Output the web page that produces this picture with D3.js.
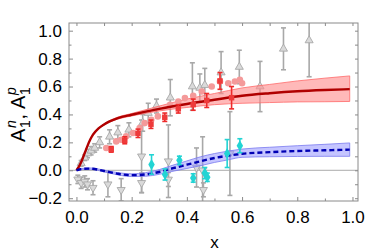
<!DOCTYPE html>
<html>
<head>
<meta charset="utf-8">
<script src="https://cdn.jsdelivr.net/npm/d3@7"></script>
<style>
  body { margin: 0; background: #fff; }
  svg { display: block; font-family: "Liberation Sans", Arial, sans-serif; }
</style>
</head>
<body>
<svg width="366" height="252"></svg>
<script>
// model curves
var redX  = [0, 0.01, 0.02, 0.03, 0.04, 0.05, 0.06, 0.08, 0.1, 0.12, 0.15, 0.2, 0.3, 0.4, 0.5, 0.6, 0.7, 0.8, 0.9, 0.99];
var redY  = [0, 0.03, 0.072, 0.124, 0.175, 0.22, 0.255, 0.30, 0.328, 0.35, 0.374, 0.398, 0.44, 0.475, 0.505, 0.534, 0.552, 0.566, 0.575, 0.581];
var redLo = [0, 0.03, 0.072, 0.124, 0.174, 0.218, 0.253, 0.297, 0.324, 0.345, 0.367, 0.389, 0.425, 0.45, 0.47, 0.48, 0.485, 0.49, 0.491, 0.493];
var redHi = [0, 0.03, 0.072, 0.124, 0.176, 0.222, 0.257, 0.303, 0.332, 0.355, 0.381, 0.407, 0.46, 0.51, 0.55, 0.59, 0.615, 0.64, 0.66, 0.676];

var bluX  = [0, 0.02, 0.05, 0.1, 0.15, 0.2, 0.25, 0.3, 0.35, 0.4, 0.45, 0.5, 0.55, 0.6, 0.7, 0.8, 0.9, 0.99];
var bluY  = [0, 0.01, 0.012, -0.005, -0.025, -0.035, -0.03, -0.012, 0.015, 0.04, 0.065, 0.088, 0.105, 0.118, 0.13, 0.138, 0.143, 0.148];
var bluLo = [0, 0.007, 0.007, -0.011, -0.033, -0.045, -0.043, -0.029, -0.007, 0.013, 0.033, 0.056, 0.075, 0.093, 0.097, 0.099, 0.1, 0.1];
var bluHi = [0, 0.013, 0.017, 0.001, -0.017, -0.025, -0.017, 0.005, 0.037, 0.067, 0.097, 0.12, 0.138, 0.152, 0.165, 0.176, 0.186, 0.196];

// grey data, proton (up triangles)
var gpX = [0.017, 0.03, 0.04, 0.053, 0.066, 0.084, 0.12, 0.15, 0.19, 0.24, 0.26, 0.29, 0.34, 0.42, 0.447, 0.465, 0.524, 0.59, 0.665, 0.75, 0.843];
var gpY = [0.05, 0.09, 0.12, 0.14, 0.16, 0.2, 0.24, 0.27, 0.29, 0.34, 0.41, 0.46, 0.52, 0.6, 0.59, 0.61, 0.7, 0.74, 0.6, 0.87, 0.93];
var gpE = [0.02, 0.02, 0.03, 0.03, 0.03, 0.04, 0.05, 0.05, 0.05, 0.06, 0.07, 0.05, 0.13, 0.17, 0.1, 0.12, 0.15, 0.12, 0.18, 0.15, 0.26];

// grey data, neutron (down triangles)
var gnX = [0.005, 0.017, 0.03, 0.04, 0.06, 0.114, 0.162, 0.236, 0.236, 0.333, 0.333, 0.435, 0.457, 0.46, 0.556];
var gnY = [-0.065, -0.09, -0.08, -0.1, -0.125, -0.1, -0.14, -0.09, 0.1, 0.065, -0.066, 0.02, 0.0, -0.14, 0.12];
var gnE = [0.03, 0.04, 0.04, 0.04, 0.05, 0.09, 0.08, 0.07, 0.26, 0.26, 0.05, 0.14, 0.24, 0.05, 0.3];

// light red circles
var pcX = [0.108, 0.144, 0.162, 0.18, 0.205, 0.229, 0.247, 0.271, 0.295, 0.339, 0.369, 0.393, 0.423, 0.454, 0.49, 0.52, 0.55, 0.574, 0.592, 0.6];
var pcY = [0.16, 0.207, 0.219, 0.243, 0.267, 0.303, 0.338, 0.362, 0.386, 0.469, 0.493, 0.517, 0.534, 0.564, 0.6, 0.636, 0.624, 0.636, 0.648, 0.624];

// red squares
var rsX = [0.126, 0.175, 0.223, 0.27, 0.32, 0.369, 0.423, 0.472, 0.52, 0.562];
var rsY = [0.15, 0.215, 0.265, 0.33, 0.38, 0.44, 0.47, 0.5, 0.64, 0.52];
var rsE = [0.02, 0.025, 0.03, 0.03, 0.03, 0.03, 0.04, 0.05, 0.06, 0.08];

// cyan points
var cyX = [0.272, 0.321, 0.373, 0.423, 0.465, 0.474, 0.546, 0.592];
var cyY = [0.041, -0.03, 0.071, -0.055, -0.02, -0.05, 0.12, 0.176];
var cyE = [0.07, 0.04, 0.03, 0.03, 0.04, 0.03, 0.1, 0.05];

var svg = d3.select("svg"),
    margin = {top: 23, left: 69},
    width = 289,
    height = 178,
    g = svg.append("g").attr("transform", "translate(" + margin.left + "," + margin.top + ")");

var x = d3.scaleLinear().domain([-0.027, 1.02]).range([0, width]);
var y = d3.scaleLinear().domain([-0.22, 1.055]).range([height, 0]);

g.append("clipPath").attr("id", "clip")
    .append("rect").attr("width", width).attr("height", height);
var plot = g.append("g").attr("clip-path", "url(#clip)");

// zero line
plot.append("line")
    .attr("x1", 0).attr("x2", width)
    .attr("y1", y(0)).attr("y2", y(0))
    .attr("stroke", "#aaa").attr("stroke-width", 1);

function zip(xs, ys) { return xs.map(function(v, i) { return [v, ys[i]]; }); }

function errBars(xs, ys, es, color, cap) {
  var d = xs.map(function(v, i) { return {x: v, y: ys[i], e: es[i]}; });
  var eg = plot.append("g").attr("stroke", color).attr("stroke-width", 1.6).attr("fill", "none");
  eg.selectAll("line.v").data(d).enter().append("line")
      .attr("x1", function(d) { return x(d.x); }).attr("x2", function(d) { return x(d.x); })
      .attr("y1", function(d) { return y(d.y - d.e); }).attr("y2", function(d) { return y(d.y + d.e); });
  [-1, 1].forEach(function(s) {
    eg.selectAll(null).data(d).enter().append("line")
        .attr("x1", function(d) { return x(d.x) - cap; }).attr("x2", function(d) { return x(d.x) + cap; })
        .attr("y1", function(d) { return y(d.y + s * d.e); }).attr("y2", function(d) { return y(d.y + s * d.e); });
  });
}

function marks(xs, ys, type, size, fill, stroke, rot) {
  plot.append("g").selectAll("path").data(zip(xs, ys)).enter().append("path")
      .attr("d", d3.symbol().type(type).size(size))
      .attr("transform", function(d) { return "translate(" + x(d[0]) + "," + y(d[1]) + ") rotate(" + (rot || 0) + ")"; })
      .attr("fill", fill).attr("stroke", stroke).attr("stroke-width", 0.9);
}

// grey data
errBars(gpX, gpY, gpE, "#a8a8a8", 2.5);
errBars(gnX, gnY, gnE, "#a8a8a8", 2.5);
marks(gpX, gpY, d3.symbolTriangle, 28, "#dadada", "#a8a8a8", 0);
marks(gnX, gnY, d3.symbolTriangle, 28, "#dadada", "#a8a8a8", 180);

// bands
var area = d3.area()
    .x(function(d) { return x(d[0]); })
    .y0(function(d) { return y(d[1]); })
    .y1(function(d) { return y(d[2]); })
    .curve(d3.curveMonotoneX);

plot.append("path")
    .datum(redX.map(function(v, i) { return [v, redLo[i], redHi[i]]; }))
    .attr("d", area)
    .attr("fill", "#ff8a8a").attr("fill-opacity", 0.6)
    .attr("stroke", "#ff6a6a").attr("stroke-width", 0.8);

plot.append("path")
    .datum(bluX.map(function(v, i) { return [v, bluLo[i], bluHi[i]]; }))
    .attr("d", area)
    .attr("fill", "#8c8cff").attr("fill-opacity", 0.5)
    .attr("stroke", "#7a7af0").attr("stroke-width", 0.8);

var line = d3.line()
    .x(function(d) { return x(d[0]); })
    .y(function(d) { return y(d[1]); })
    .curve(d3.curveMonotoneX);

// pink circles, curves, red squares, cyan
marks(pcX, pcY, d3.symbolCircle, 34, "#f49a9a", "none", 0);

plot.append("path").datum(zip(redX, redY)).attr("d", line)
    .attr("fill", "none").attr("stroke", "#b00000").attr("stroke-width", 2.4);

plot.append("path").datum(zip(bluX, bluY)).attr("d", line)
    .attr("fill", "none").attr("stroke", "#0000b4").attr("stroke-width", 2.4)
    .attr("stroke-dasharray", "5,3");

errBars(rsX, rsY, rsE, "#ee2a2a", 2.5);
marks(rsX, rsY, d3.symbolSquare, 30, "#ee3a3a", "none", 0);

errBars(cyX, cyY, cyE, "#22d4d4", 2.5);
marks(cyX, cyY, d3.symbolDiamond, 36, "#22d4d4", "none", 0);

// frame and ticks
var frame = "#8a8a8a";
g.append("rect").attr("width", width).attr("height", height)
    .attr("fill", "none").attr("stroke", frame).attr("stroke-width", 1);

var xMajor = [0, 0.2, 0.4, 0.6, 0.8, 1.0];
var xMinor = [0.1, 0.3, 0.5, 0.7, 0.9];
var yMajor = [-0.2, 0, 0.2, 0.4, 0.6, 0.8, 1.0];
var yMinor = [-0.1, 0.1, 0.3, 0.5, 0.7, 0.9];

g.append("g").attr("transform", "translate(0," + height + ")")
    .call(d3.axisBottom(x).tickValues(xMajor).tickSize(-4).tickPadding(10).tickFormat(d3.format(".1f")))
    .call(function(a) { a.select(".domain").remove(); });
g.append("g").attr("transform", "translate(0," + height + ")")
    .call(d3.axisBottom(x).tickValues(xMinor).tickSize(-2.5).tickFormat(""))
    .call(function(a) { a.select(".domain").remove(); });
g.append("g")
    .call(d3.axisTop(x).tickValues(xMajor.concat(xMinor)).tickSize(-3).tickFormat(""))
    .call(function(a) { a.select(".domain").remove(); });

g.append("g")
    .call(d3.axisLeft(y).tickValues(yMajor).tickSize(-4).tickPadding(7).tickFormat(function(d) { return d3.format(".1f")(d).replace("-", "\u2212"); }))
    .call(function(a) { a.select(".domain").remove(); });
g.append("g")
    .call(d3.axisLeft(y).tickValues(yMinor).tickSize(-2.5).tickFormat(""))
    .call(function(a) { a.select(".domain").remove(); });
g.append("g").attr("transform", "translate(" + width + ",0)")
    .call(d3.axisRight(y).tickValues(yMajor.concat(yMinor)).tickSize(-3).tickFormat(""))
    .call(function(a) { a.select(".domain").remove(); });

g.selectAll(".tick line").attr("stroke", frame);
g.selectAll(".tick text").attr("fill", "#000").style("font-size", "17px")
    .style("font-family", "'Liberation Sans', Arial, sans-serif");

// axis titles
svg.append("text")
    .attr("x", margin.left + x(0.5)).attr("y", 248)
    .attr("text-anchor", "middle")
    .style("font-size", "17px")
    .text("x");

// y title: A_1^n, A_1^p  (sub and sup stacked)
var yl = svg.append("g").attr("transform", "translate(25,142) rotate(-90)")
    .style("font-size", "20px");
yl.append("text").attr("x", 0).text("A");
yl.append("text").attr("x", 14).attr("y", -9).style("font-size", "14px").style("font-style", "italic").text("n");
yl.append("text").attr("x", 14).attr("y", 5).style("font-size", "14px").text("1");
yl.append("text").attr("x", 22.5).text(",");
yl.append("text").attr("x", 33).text("A");
yl.append("text").attr("x", 47).attr("y", -9).style("font-size", "14px").style("font-style", "italic").text("p");
yl.append("text").attr("x", 47).attr("y", 5).style("font-size", "14px").text("1");
</script>
</body>
</html>
